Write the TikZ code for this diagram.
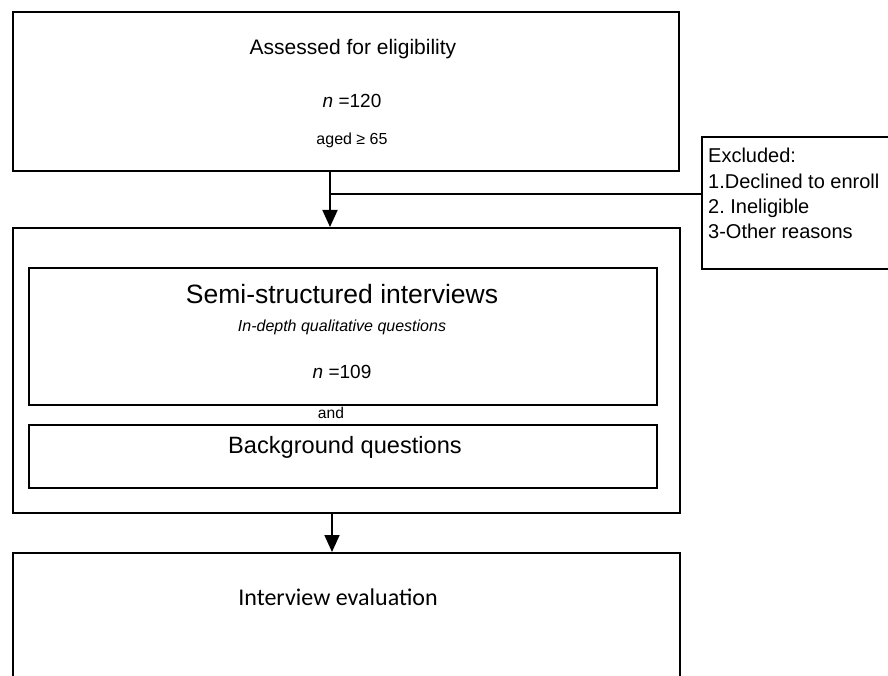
\documentclass[tikz,border=0pt]{standalone}
\usepackage{fontspec}
\setmainfont{Liberation Sans}
\newfontfamily\evalfont{Carlito}
\usetikzlibrary{positioning,calc,arrows.meta}

\tikzset{
  box/.style={draw, line width=1.8pt, inner sep=0pt, anchor=north west},
  txt/.style={inner sep=0pt},
  flow/.style={line width=1.8pt, -{Triangle[length=17pt,width=15pt]}},
}
\newcommand{\fs}[1]{\fontsize{#1}{#1}\selectfont}

\begin{document}
\begin{tikzpicture}[x=1pt,y=-1pt]
		\useasboundingbox[fill=white] (0,0) rectangle (888,676);
		% boxes
		\node[box, minimum width=666pt, minimum height=159pt] (top) at (12,11) {};
		\node[box, minimum width=200pt, minimum height=132pt] (excl) at (701,136) {};
		\node[box, minimum width=667pt, minimum height=285pt] (outer) at (12,227) {};
		\node[box, minimum width=628pt, minimum height=137pt] (semi) at (28,267) {};
		\node[box, minimum width=628pt, minimum height=63pt] (back) at (28,424) {};
		\node[box, minimum width=667pt, minimum height=160pt] (eval) at (12,552) {};
		
		% texts
		\node[txt, font=\fs{21}] (assess) at (353,49) {Assessed for eligibility};
		\node[txt, font=\fs{19}] (n1) at (352,101) {\textit{n} =120};
		\node[txt, font=\fs{16}] (age) at (352,140) {aged ≥ 65};
		\node[txt, font=\fs{26.5}] (semit) at (342,294) {Semi-structured interviews};
		\node[txt, font=\fs{16}\itshape] (depth) at (342,327) {In-depth qualitative questions};
		\node[txt, font=\fs{19}] (n2) at (342,372) {\textit{n} =109};
		\node[txt, font=\fs{15.6}] (and) at (331,413) {and};
		\node[txt, font=\fs{23.6}] (backt) at (345,447) {Background questions};
		\node[txt, font=\evalfont\fs{24}] (evalt) at (338,597) {Interview evaluation};
		\node[txt, font=\fs{20}, align=left, anchor=north west] (excltxt) at (708,148)
		  {Excluded:\\[5.4pt]1.Declined to enroll\\[5.4pt]2.\ Ineligible\\[5.4pt]3-Other reasons};
		
		% connectors
		\coordinate (j) at (330,194);
		\coordinate (k) at (332,530);
		\draw[line width=1.8pt] (j) -- (j -| excl.west);
		\draw[flow] (top.south -| j) -- (outer.north -| j);
		\draw[flow] (outer.south -| k) -- (eval.north -| k);
\end{tikzpicture}
\end{document}
